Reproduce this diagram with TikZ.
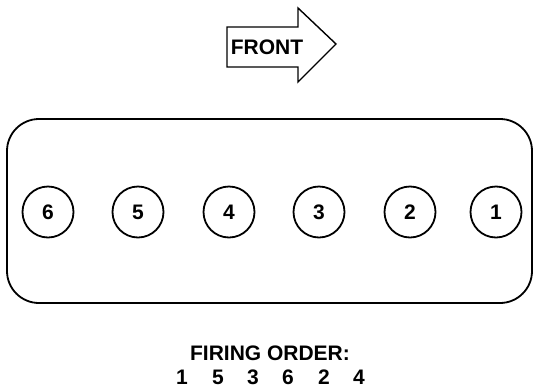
\documentclass[tikz,border=0pt]{standalone}
\usepackage{fontspec}
\setmainfont{Liberation Sans}
\begin{document}
\begin{tikzpicture}[x=1pt,y=-1pt,
  lbl/.style={font=\fontsize{21}{23}\selectfont\bfseries, inner sep=0pt},
  cyl/.style={circle, draw, line width=1.8pt, minimum size=51pt, inner sep=0pt, font=\fontsize{21}{23}\selectfont\bfseries},
  block/.style={draw, line width=1.8pt, rounded corners=32pt},
  frontarrow/.style={draw, line width=1.4pt, line join=miter}]
\useasboundingbox (0,0) rectangle (534,388);
% block outline
\draw[block] (7,119) rectangle (532,303);
% cylinders
\node[cyl] (c6) at (48,212) {6};
\node[cyl] (c5) at (138,212) {5};
\node[cyl] (c4) at (229,212) {4};
\node[cyl] (c3) at (319,212) {3};
\node[cyl] (c2) at (410,212) {2};
\node[cyl] (c1) at (496,212) {1};
% front arrow
\draw[frontarrow] (227,27) -- (298,27) -- (298,8) -- (336,44) -- (298,82) -- (298,67) -- (227,67) -- cycle;
\node[lbl] (front) at (267,47) {FRONT};
% firing order
\node[lbl] (fo) at (270,353) {FIRING ORDER:};
\node[lbl] (o1) at (182,377) {1};
\node[lbl] (o2) at (218,377) {5};
\node[lbl] (o3) at (253,377) {3};
\node[lbl] (o4) at (288,377) {6};
\node[lbl] (o5) at (324,377) {2};
\node[lbl] (o6) at (359,377) {4};
\end{tikzpicture}
\end{document}
